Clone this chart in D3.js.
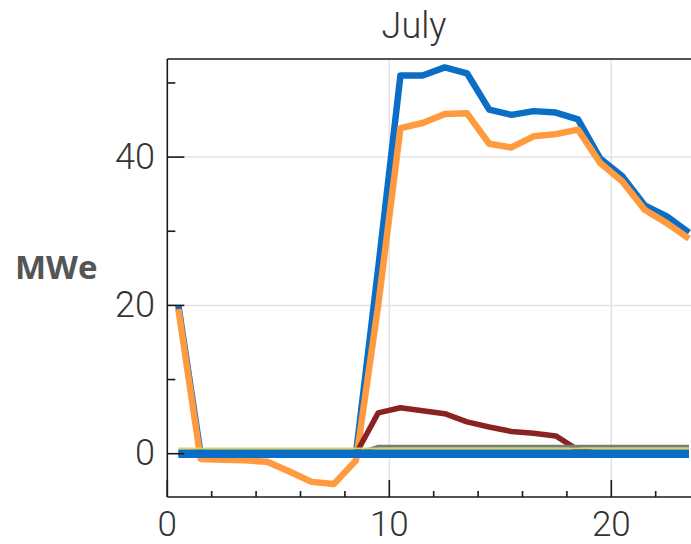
<!DOCTYPE html>
<html>
<head>
<meta charset="utf-8">
<script src="https://cdn.jsdelivr.net/npm/d3@7"></script>
<style>
  html, body { margin: 0; padding: 0; background: #fff; overflow: hidden; }
  svg { display: block; }
</style>
</head>
<body>
<svg id="chart" width="691" height="544"></svg>
<script>
// Hour of day (bin centres)
const hours = [0.5, 1.5, 2.5, 3.5, 4.5, 5.5, 6.5, 7.5, 8.5, 9.5, 10.5, 11.5,
               12.5, 13.5, 14.5, 15.5, 16.5, 17.5, 18.5, 19.5, 20.5, 21.5, 22.5, 23.5];

// Hourly output, MWe
const seriesBlue   = [20.0, 0, 0, 0, 0, 0, 0, 0, 0, 25.0, 51.0, 51.0,
                      52.1, 51.3, 46.4, 45.7, 46.2, 46.0, 45.1, 39.8, 37.4, 33.5, 32.0, 29.8];
const seriesOrange = [19.5, -0.7, -0.8, -0.9, -1.1, -2.4, -3.8, -4.1, -0.9, 20.0, 43.9, 44.6,
                      45.8, 45.9, 41.8, 41.3, 42.8, 43.1, 43.7, 39.2, 36.7, 32.9, 31.1, 29.0];
const seriesRed    = [0, 0, 0, 0, 0, 0, 0, 0, 0, 5.5, 6.2, 5.8,
                      5.4, 4.3, 3.6, 3.0, 2.75, 2.4, 0.5, 0, 0, 0, 0, 0];
const seriesGreen  = [0, 0, 0, 0, 0, 0, 0, 0, 0, 1.0, 1.0, 1.0,
                      1.0, 1.0, 1.0, 1.0, 1.0, 1.0, 1.0, 1.0, 1.0, 1.0, 1.0, 1.0];
const seriesYellow = [0.7, 0.7, 0.7, 0.7, 0.7, 0.7, 0.7, 0.7, 0.7, 0.7, 0.7, 0.7,
                      0.7, 0.7, 0.7, 0.7, 0.7, 0.7, 0.7, 0.7, 0.7, 0.7, 0.7, 0.7];
const seriesBase   = [0, 0, 0, 0, 0, 0, 0, 0, 0, 0, 0, 0,
                      0, 0, 0, 0, 0, 0, 0, 0, 0, 0, 0, 0];

const xMajor = [0, 10, 20];
const xMinor = [2, 4, 6, 8, 12, 14, 16, 18, 22];
const yMajor = [0, 20, 40];
const yMinor = [10, 30, 50];
const titleText = "July";
const yLabel = "MWe";

const svg = d3.select("#chart");
const pLeft = 167.3, pRight = 700.1, pTop = 59, pBottom = 497;

const x = d3.scaleLinear().domain([0, 24]).range([pLeft, pRight]);
const y = d3.scaleLinear().domain([-5.84, 53.23]).range([pBottom, pTop]);

// grid
const grid = svg.append("g").attr("stroke", "#e2e2e2").attr("stroke-width", 1.5);
grid.selectAll("line.gx").data([10, 20]).join("line")
  .attr("x1", d => x(d)).attr("x2", d => x(d)).attr("y1", pTop).attr("y2", pBottom);
grid.selectAll("line.gy").data([20, 40]).join("line")
  .attr("x1", pLeft).attr("x2", pRight).attr("y1", d => y(d)).attr("y2", d => y(d));

// series lines
const line = vals => d3.line().x((d, i) => x(hours[i])).y(d => y(d))(vals);
const plot = svg.append("g").attr("fill", "none")
  .attr("stroke-linejoin", "round").attr("stroke-linecap", "butt");

plot.append("path").attr("d", line(seriesBlue)).attr("stroke", "#0a6ec6").attr("stroke-width", 6.5);
plot.append("path").attr("d", line(seriesOrange)).attr("stroke", "#ff9a3e").attr("stroke-width", 6.5);
plot.append("path").attr("d", line(seriesRed)).attr("stroke", "#8b2222").attr("stroke-width", 5.5);
plot.append("path").attr("d", line(seriesGreen)).attr("stroke", "#6f8374").attr("stroke-width", 3);
plot.append("path").attr("d", line(seriesYellow)).attr("stroke", "#e4d24c").attr("stroke-width", 2);
plot.append("path").attr("d", line(seriesBase)).attr("stroke", "#0a6ec6").attr("stroke-width", 8.5);

// frame
const frame = svg.append("g").attr("stroke", "#1a1a1a").attr("stroke-width", 1.6).attr("fill", "none");
frame.append("line").attr("x1", pLeft).attr("x2", pLeft).attr("y1", pTop).attr("y2", pBottom);
frame.append("line").attr("x1", pLeft).attr("x2", pRight).attr("y1", pTop).attr("y2", pTop);
frame.append("line").attr("x1", pLeft).attr("x2", pRight).attr("y1", pBottom).attr("y2", pBottom);

// ticks
frame.selectAll("line.xmaj").data(xMajor).join("line")
  .attr("x1", d => x(d)).attr("x2", d => x(d)).attr("y1", pBottom).attr("y2", pBottom - 17);
frame.selectAll("line.xmin").data(xMinor).join("line")
  .attr("x1", d => x(d)).attr("x2", d => x(d)).attr("y1", pBottom).attr("y2", pBottom - 6);
frame.selectAll("line.ymaj").data(yMajor).join("line")
  .attr("x1", pLeft).attr("x2", pLeft + 17).attr("y1", d => y(d)).attr("y2", d => y(d));
frame.selectAll("line.ymin").data(yMinor).join("line")
  .attr("x1", pLeft).attr("x2", pLeft + 8).attr("y1", d => y(d)).attr("y2", d => y(d));

// tick labels
const tickFont = "Roboto, 'Liberation Sans', sans-serif";
svg.append("g").selectAll("text").data(xMajor).join("text")
  .attr("x", d => x(d)).attr("y", 536).attr("text-anchor", "middle")
  .attr("font-family", tickFont).attr("font-weight", 300).attr("font-size", 35)
  .attr("fill", "#333").text(d => d);
svg.append("g").selectAll("text").data(yMajor).join("text")
  .attr("x", 155).attr("y", d => y(d) + 11.5).attr("text-anchor", "end")
  .attr("font-family", tickFont).attr("font-weight", 300).attr("font-size", 36)
  .attr("fill", "#333").text(d => d);

// title
svg.append("text").attr("x", 414).attr("y", 38).attr("text-anchor", "middle")
  .attr("font-family", tickFont).attr("font-weight", 300).attr("font-size", 36)
  .attr("fill", "#333").text(titleText);

// axis label
svg.append("text").attr("x", 15).attr("y", 279)
  .attr("font-family", "'Open Sans', sans-serif").attr("font-weight", 700).attr("font-size", 33)
  .attr("fill", "#555").text(yLabel);
</script>
</body>
</html>
